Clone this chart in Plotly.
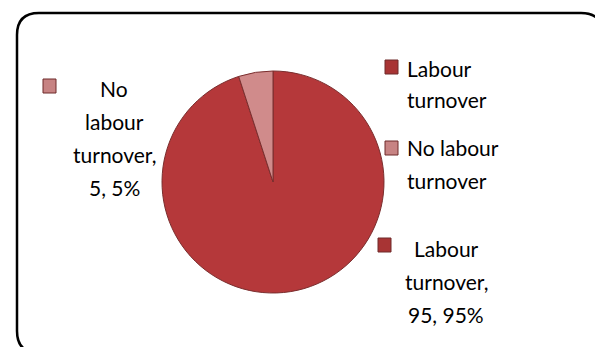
import textwrap
import plotly.graph_objects as go

# Data
labels = ["Labour turnover", "No labour turnover"]
values = [95, 5]
slice_colors = ["#B5383A", "#D08B8B"]
key_colors = ["#A83434", "#C78383"]
legend_lines = [["Labour", "turnover"], ["No labour", "turnover"]]

W, H = 595, 347
FONT = "Lato"


def px(x):
    return x / W


def py(y):
    return 1 - y / H


total = sum(values)
pcts = [round(v * 100 / total) for v in values]

# Pie placement (pixel box of the circle)
CX, CY, RAD = 273, 182, 111

fig = go.Figure()
fig.add_trace(go.Pie(
    labels=labels,
    values=values,
    sort=False,
    direction="clockwise",
    rotation=0,
    marker=dict(colors=slice_colors, line=dict(color="#7A2E2E", width=1)),
    textinfo="none",
    hoverinfo="label+value+percent",
    showlegend=False,
    domain=dict(x=[px(CX - RAD), px(CX + RAD)], y=[py(CY + RAD), py(CY - RAD)]),
))

shapes = []
annotations = []

# Rounded chart-area border
L, T, R, B, r = 17, 13, 603, 353, 22
path = (
    f"M {px(L + r)},{py(T)} L {px(R - r)},{py(T)} Q {px(R)},{py(T)} {px(R)},{py(T + r)} "
    f"L {px(R)},{py(B - r)} Q {px(R)},{py(B)} {px(R - r)},{py(B)} "
    f"L {px(L + r)},{py(B)} Q {px(L)},{py(B)} {px(L)},{py(B - r)} "
    f"L {px(L)},{py(T + r)} Q {px(L)},{py(T)} {px(L + r)},{py(T)} Z"
)
shapes.append(dict(type="path", xref="paper", yref="paper", path=path,
                   line=dict(color="black", width=2.5), fillcolor="rgba(0,0,0,0)"))


def key(x, y, color):
    shapes.append(dict(type="rect", xref="paper", yref="paper",
                       x0=px(x), x1=px(x + 13), y0=py(y + 14), y1=py(y),
                       fillcolor=color, line=dict(color="#6E2A2A", width=1)))


def text(x, y, s, anchor="center"):
    annotations.append(dict(x=px(x), y=py(y), xref="paper", yref="paper",
                            text=s, showarrow=False, xanchor=anchor, yanchor="middle",
                            font=dict(family=FONT, size=21, color="black")))


# Legend
legend_pos = [(385, 60, 405, 68), (385, 141, 405, 148)]
for (kx, ky, tx, ty), lines, col in zip(legend_pos, legend_lines, key_colors):
    key(kx, ky, col)
    for i, ln in enumerate(lines):
        text(tx, ty + i * 32, ln, anchor="left")

# Data labels (category, value, percent)
label_pos = {1: (43, 79, 114, 88), 0: (378, 238, 446, 248)}
for idx, (kx, ky, cx, cy) in label_pos.items():
    key(kx, ky, key_colors[idx])
    full = f"{labels[idx]}, {values[idx]}, {pcts[idx]}%"
    for i, ln in enumerate(textwrap.wrap(full, width=8, break_long_words=False)):
        text(cx, cy + i * 33, ln)

fig.update_layout(
    width=W, height=H,
    margin=dict(l=0, r=0, t=0, b=0),
    paper_bgcolor="white",
    plot_bgcolor="white",
    shapes=shapes,
    annotations=annotations,
)

fig.write_html("out.html")
